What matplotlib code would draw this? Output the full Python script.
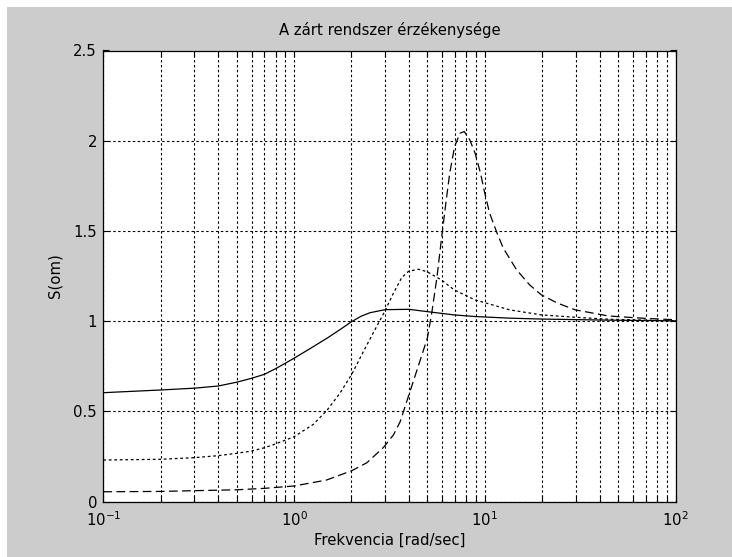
import matplotlib
matplotlib.use("Agg")
import matplotlib.pyplot as plt
from matplotlib.patches import Rectangle
from matplotlib.ticker import LogLocator, NullFormatter

# ---- data ----
freq_solid = [0.1, 0.2, 0.3, 0.4, 0.5, 0.6, 0.7, 0.8, 0.9, 1.0, 1.2, 1.5, 1.75, 2.0, 2.25, 2.5, 3.0, 4.0, 5.0,
              6.9, 8.9, 13.5, 19.8, 44.5, 100]
s_solid = [0.604, 0.619, 0.629, 0.641, 0.662, 0.684, 0.706, 0.737, 0.767, 0.795, 0.845, 0.908, 0.955, 0.997,
           1.028, 1.047, 1.064, 1.066, 1.053, 1.035, 1.026, 1.017, 1.012, 1.006, 1.002]

freq_dot = [0.1, 0.2, 0.3, 0.4, 0.5, 0.6, 0.7, 0.8, 1.0, 1.26, 1.48, 1.74, 2.01, 2.31, 2.61, 2.94, 3.32, 3.67,
            3.98, 4.48, 4.97, 5.92, 6.9, 8.9, 13.5, 19.8, 29.8, 44.5, 100]
s_dot = [0.231, 0.235, 0.244, 0.255, 0.268, 0.281, 0.299, 0.32, 0.36, 0.428, 0.503, 0.601, 0.707, 0.832, 0.938,
         1.04, 1.155, 1.242, 1.276, 1.288, 1.275, 1.229, 1.174, 1.118, 1.063, 1.035, 1.022, 1.011, 1.002]

freq_dash = [0.1, 0.2, 0.3, 0.5, 0.7, 1.0, 1.48, 2.01, 2.41, 2.94, 3.32, 3.6, 4.2, 5.0, 5.27, 5.62, 5.92, 6.25,
             6.55, 6.95, 7.42, 7.81, 8.34, 8.9, 9.5, 10.0, 10.6, 11.6, 12.5, 14.7, 17.2, 19.8, 24.1, 29.8, 44.5,
             66.5, 100]
s_dash = [0.055, 0.057, 0.061, 0.066, 0.074, 0.087, 0.12, 0.172, 0.216, 0.3, 0.37, 0.443, 0.66, 0.906, 1.044,
          1.247, 1.451, 1.654, 1.82, 1.968, 2.042, 2.051, 2.005, 1.931, 1.82, 1.71, 1.599, 1.488, 1.405, 1.284,
          1.201, 1.146, 1.1, 1.063, 1.029, 1.017, 1.008]

title = "A zárt rendszer érzékenysége"
xlabel = "Frekvencia [rad/sec]"
ylabel = "S(om)"
yticks = [0, 0.5, 1, 1.5, 2, 2.5]

W, H = 732, 557
fig = plt.figure(figsize=(W / 100, H / 100), dpi=100)
fig.patch.set_facecolor("white")
fig.patches.append(Rectangle((7 / W, 0), 1 - 7 / W, (H - 7) / H, transform=fig.transFigure,
                             facecolor="#cccccc", edgecolor="none", zorder=-10))

plt.rcParams["font.family"] = ["DejaVu Sans"]
fs = 10.7

ax = fig.add_axes([103.3 / W, (H - 501.7) / H, 572.2 / W, 451.2 / H])
ax.set_facecolor("white")

ax.plot(freq_solid, s_solid, color="black", lw=0.9, ls="-")
ax.plot(freq_dot, s_dot, color="black", lw=0.9, ls=(0, (2.2, 2.2)))
ax.plot(freq_dash, s_dash, color="black", lw=0.9, ls=(0, (7, 3.5)))

ax.set_xscale("log")
ax.set_xlim(0.1, 100)
ax.set_ylim(0, 2.5)
ax.set_yticks(yticks)
ax.set_yticklabels([f"{v:g}" for v in yticks])
ax.xaxis.set_major_locator(LogLocator(base=10, numticks=10))
ax.xaxis.set_minor_locator(LogLocator(base=10, subs=range(2, 10), numticks=20))
ax.xaxis.set_minor_formatter(NullFormatter())

grid_kw = dict(color="black", lw=0.8, ls=(0, (2.2, 2.2)))
ax.grid(True, which="major", axis="both", **grid_kw)
ax.grid(True, which="minor", axis="x", **grid_kw)
ax.set_axisbelow(True)

for s in ax.spines.values():
    s.set_color("black")
    s.set_linewidth(0.9)

ax.tick_params(which="both", direction="in", top=True, right=True, width=0.8, labelsize=fs, colors="black")
ax.tick_params(which="major", length=4)
ax.tick_params(which="minor", length=4)
ax.tick_params(axis="x", pad=6)
ax.tick_params(axis="y", pad=4.5)

ax.set_title(title, fontsize=fs, pad=11)
ax.set_xlabel(xlabel, fontsize=fs, labelpad=3)
ax.set_ylabel(ylabel, fontsize=fs, labelpad=8)

fig.savefig("out.png", dpi=100, facecolor=fig.get_facecolor())
